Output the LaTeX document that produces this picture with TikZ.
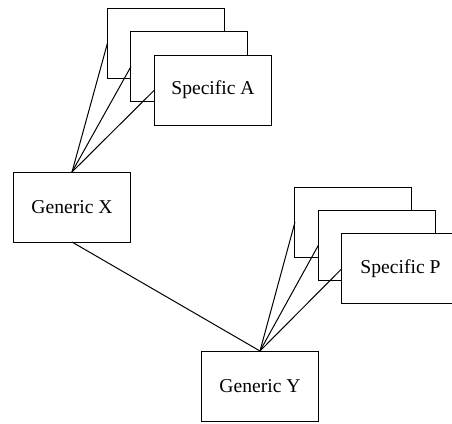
\documentclass[tikz,border=0pt]{standalone}
\usepackage{fontspec}
\setmainfont{Liberation Serif}
\begin{document}
\begin{tikzpicture}[x=0.5pt,y=-0.5pt,
  box/.style={draw,fill=white,line width=0.5pt,minimum width=58.5pt,minimum height=35pt,inner sep=0pt,outer sep=0pt,font=\fontsize{9.8pt}{11pt}\selectfont},
  link/.style={line width=0.5pt}]
\useasboundingbox (0,0) rectangle (452,424);
% Generic X group
\node[box] (xa3) at (166,43) {};
\node[box] (xa2) at (189.5,66.5) {};
\node[box] (xa1) at (213,90) {Specific A};
\node[box] (gx) at (72,207) {Generic X};
% Generic Y group
\node[box] (yp3) at (353.5,222) {};
\node[box] (yp2) at (377,245) {};
\node[box] (yp1) at (400.5,268.5) {Specific P};
\node[box] (gy) at (260,386) {Generic Y};
% connectors
\draw[link] (gx.north) -- (xa3.west);
\draw[link] (gx.north) -- (xa2.west);
\draw[link] (gx.north) -- (xa1.west);
\draw[link] (gy.north) -- (yp3.west);
\draw[link] (gy.north) -- (yp2.west);
\draw[link] (gy.north) -- (yp1.west);
\draw[link] (gx.south) -- (gy.north);
\end{tikzpicture}
\end{document}
